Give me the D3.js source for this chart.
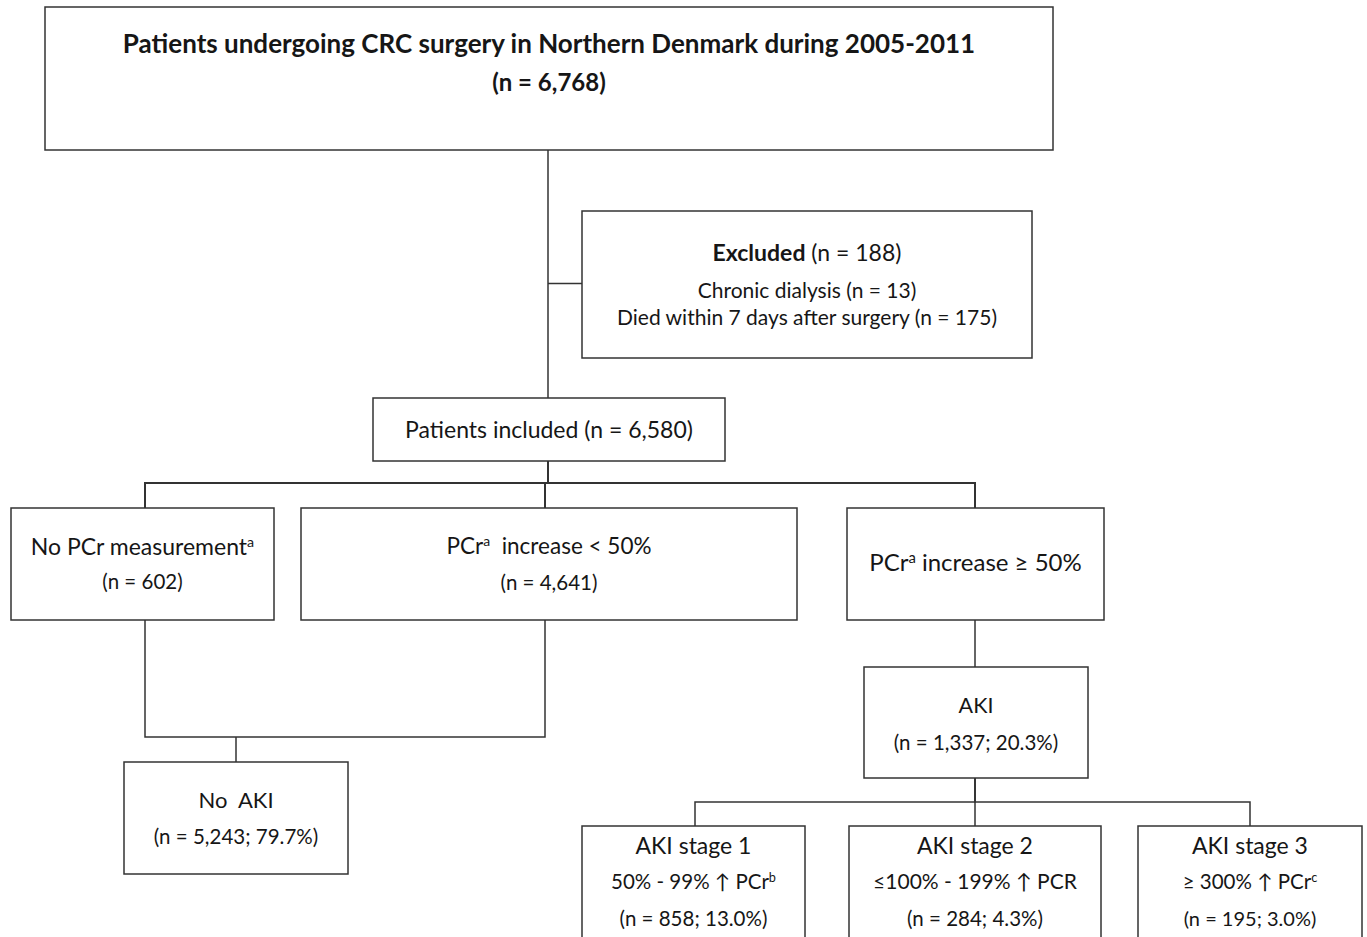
<!DOCTYPE html>
<html>
<head>
<meta charset="utf-8">
<script src="https://cdn.jsdelivr.net/npm/d3@7"></script>
<style>
  body { margin: 0; background: #fff; }
  text { font-family: Lato, "Noto Sans", sans-serif; fill: #161616; white-space: pre; }
</style>
</head>
<body>
<div id="chart"></div>
<script>
// box ids and what they say (one entry per text line; "^" marks a superscript)
var boxIds = ['top', 'excl', 'incl', 'noPcr', 'low', 'high', 'noAki', 'aki', 's1', 's2', 's3']
var boxLines = [
  ['Patients undergoing CRC surgery in Northern Denmark during 2005-2011', '(n = 6,768)'],
  ['Excluded| (n = 188)', 'Chronic dialysis (n = 13)', 'Died within 7 days after surgery (n = 175)'],
  ['Patients included (n = 6,580)'],
  ['No PCr measurement^a', '(n = 602)'],
  ['PCr^a^  increase < 50%', '(n = 4,641)'],
  ['PCr^a^ increase ≥ 50%'],
  ['No  AKI', '(n = 5,243; 79.7%)'],
  ['AKI', '(n = 1,337; 20.3%)'],
  ['AKI stage 1', '50% - 99% ↑ PCr^b', '(n = 858; 13.0%)'],
  ['AKI stage 2', '≤100% - 199% ↑ PCR', '(n = 284; 4.3%)'],
  ['AKI stage 3', '≥ 300% ↑ PCr^c', '(n = 195; 3.0%)']
]
// which box flows into which
var flowFrom = ['top', 'top', 'incl', 'incl', 'incl', 'noPcr', 'low', 'high', 'aki', 'aki', 'aki']
var flowTo   = ['incl', 'excl', 'noPcr', 'low', 'high', 'noAki', 'noAki', 'aki', 's1', 's2', 's3']

// layout (pixels): box rect, text line centres, font size per line
var geom = {
  top:   {x: 45,   y: 7,   w: 1008, h: 143, ty: [44, 83], fs: [26, 24], bold: true},
  excl:  {x: 582,  y: 211, w: 450,  h: 147, ty: [253, 291, 318], fs: [23, 21, 21]},
  incl:  {x: 373,  y: 398, w: 352,  h: 63,  ty: [430], fs: [23]},
  noPcr: {x: 11,   y: 508, w: 263,  h: 112, ty: [547, 582], fs: [23, 20.5]},
  low:   {x: 301,  y: 508, w: 496,  h: 112, ty: [546, 583], fs: [22.5, 20.5]},
  high:  {x: 847,  y: 508, w: 257,  h: 112, ty: [563], fs: [24]},
  noAki: {x: 124,  y: 762, w: 224,  h: 112, ty: [800, 837], fs: [22, 20.5]},
  aki:   {x: 864,  y: 667, w: 224,  h: 111, ty: [705, 743], fs: [21.5, 20.5]},
  s1:    {x: 582,  y: 826, w: 223,  h: 140, ty: [846, 882, 919], fs: [23, 20.5, 20.5]},
  s2:    {x: 849,  y: 826, w: 252,  h: 140, ty: [846, 882, 919], fs: [23, 21, 20.5]},
  s3:    {x: 1138, y: 826, w: 224,  h: 140, ty: [846, 882, 919], fs: [23, 20.5, 20]}
}
// where a fan of branches splits, and the x of the stubs leaving each box
var splitY = {incl: 483, aki: 802, noAki: 737}
var stubX = {top: 548, incl: 548, noPcr: 145, low: 545, high: 975, aki: 975, noAki: 236,
             s1: 695, s2: 975, s3: 1250, excl: null}

var svg = d3.select('#chart').append('svg')
  .attr('width', 1367)
  .attr('height', 937)

var lineGen = d3.line()
var stroke = '#333'

// connectors
flowFrom.forEach(function(f, i) {
  var t = flowTo[i]
  var a = geom[f], b = geom[t]
  var pts
  if (t === 'excl') {
    var yy = b.y + b.h / 2 - 1
    pts = [[stubX[f], yy], [b.x, yy]]
  } else if (t === 'noAki') {
    var my = splitY.noAki
    pts = [[stubX[f], a.y + a.h], [stubX[f], my], [stubX.noAki, my]]
  } else if (splitY[f] !== undefined) {
    var sy = splitY[f]
    pts = [[stubX[f], a.y + a.h], [stubX[f], sy], [stubX[t], sy], [stubX[t], b.y]]
  } else {
    pts = [[stubX[f], a.y + a.h], [stubX[t], b.y]]
  }
  svg.append('path')
    .attr('d', lineGen(pts))
    .attr('fill', 'none')
    .attr('stroke', stroke)
    .attr('stroke-width', (f === 'incl') ? 2 : 1.5)
})
// last drop into No AKI
svg.append('path')
  .attr('d', lineGen([[stubX.noAki, splitY.noAki], [stubX.noAki, geom.noAki.y]]))
  .attr('stroke', stroke).attr('stroke-width', 1.5)

// boxes
var node = svg.selectAll('.node')
  .data(boxIds)
  .enter()
  .append('g')
  .attr('class', 'node')

node.append('rect')
  .attr('x', function(d) { return geom[d].x })
  .attr('y', function(d) { return geom[d].y })
  .attr('width', function(d) { return geom[d].w })
  .attr('height', function(d) { return geom[d].h })
  .attr('fill', '#fff')
  .attr('stroke', stroke)
  .attr('stroke-width', 1.5)

node.each(function(d, i) {
  var g = d3.select(this), b = geom[d]
  boxLines[i].forEach(function(line, j) {
    var fs = b.fs[j]
    var t = g.append('text')
      .attr('x', b.x + b.w / 2)
      .attr('y', b.ty[j])
      .attr('dy', '0.35em')
      .attr('text-anchor', 'middle')
      .style('font-size', fs + 'px')
      .style('font-weight', b.bold ? 700 : 400)
    if (line.indexOf('|') > -1) {
      // bold lead word, then normal text
      var parts = line.split('|')
      t.append('tspan').style('font-weight', 700).text(parts[0])
      t.append('tspan').text(parts[1])
    } else {
      line.split('^').forEach(function(p, k) {
        if (p === '') return
        var s = t.append('tspan').text(p)
        if (k % 2 === 1) {
          s.style('font-size', (fs * 0.62) + 'px').attr('baseline-shift', '55%')
        }
      })
    }
  })
})
</script>
</body>
</html>
